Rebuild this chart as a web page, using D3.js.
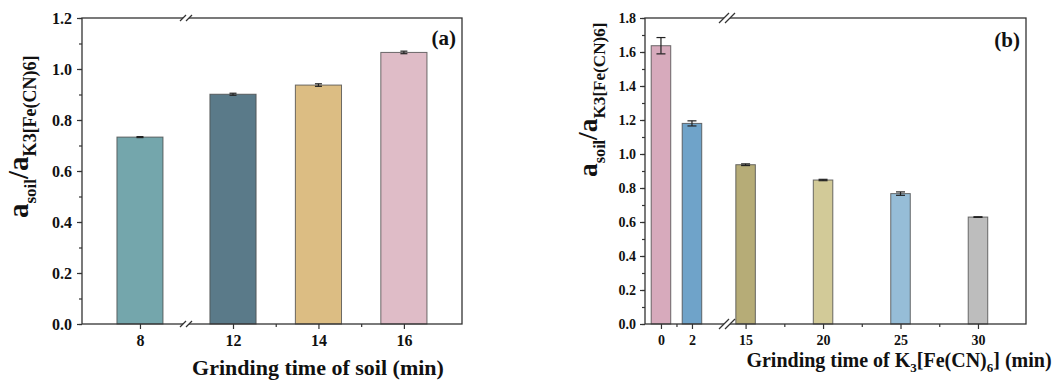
<!DOCTYPE html>
<html><head><meta charset="utf-8">
<script src="https://cdn.jsdelivr.net/npm/d3@7"></script>
<style>
body{margin:0;background:#fff;}
svg text{font-family:"Liberation Serif","Times New Roman",serif !important;font-weight:bold;fill:#111;}
</style></head>
<body><svg id="c" width="1058" height="382"></svg>
<script>
// ---- Panel (a) data ----
const timesA = [8, 12, 14, 16];
const labelsA = ["8", "12", "14", "16"];
const valuesA = [0.733, 0.901, 0.937, 1.065];
const errorsA = [0.002, 0.004, 0.005, 0.005];
const colorsA = ["#74a6ac", "#5a7a89", "#dcbd83", "#dfbcc7"];
const yTicksA = [0, 0.2, 0.4, 0.6, 0.8, 1.0, 1.2];
const xMinorA = [13, 15];

// ---- Panel (b) data ----
const timesB = [0, 2, 15, 20, 25, 30];
const labelsB = ["0", "2", "15", "20", "25", "30"];
const valuesB = [1.637, 1.180, 0.937, 0.847, 0.767, 0.629];
const errorsB = [0.048, 0.015, 0.005, 0.004, 0.010, 0.002];
const colorsB = ["#d7aabc", "#6fa3c9", "#b6ac77", "#d2ca98", "#96bdd7", "#bdbdbd"];
const yTicksB = [0, 0.2, 0.4, 0.6, 0.8, 1.0, 1.2, 1.4, 1.6, 1.8];
const xMinorB = [1, 17.5, 22.5, 27.5];

const svg = d3.select("#c");
const SERIF = "Liberation Serif";

function panel(cfg) {
  const g = svg.append("g");
  const x = d3.scaleLinear().domain(cfg.xDomain).range([cfg.left, cfg.brk, cfg.brk, cfg.right]);
  const y = d3.scaleLinear().domain([0, cfg.yMax]).range([cfg.bottom, cfg.top]);
  const hw = cfg.barHalf;

  // bars
  g.selectAll("rect.bar").data(cfg.times).join("rect")
    .attr("x", (d) => x(d - hw))
    .attr("width", (d) => x(d + hw) - x(d - hw))
    .attr("y", (d, i) => y(cfg.values[i]))
    .attr("height", (d, i) => y(0) - y(cfg.values[i]))
    .attr("fill", (d, i) => cfg.colors[i])
    .attr("stroke", "#4a4a4a").attr("stroke-opacity", 0.8).attr("stroke-width", 1);

  // error bars
  const eb = g.selectAll("g.eb").data(cfg.times).join("g");
  eb.append("line")
    .attr("x1", (d) => x(d)).attr("x2", (d) => x(d))
    .attr("y1", (d, i) => y(cfg.values[i] + cfg.errors[i]))
    .attr("y2", (d, i) => y(cfg.values[i] - cfg.errors[i]))
    .attr("stroke", "#222").attr("stroke-width", 1.2);
  [1, -1].forEach((s) => {
    eb.append("line")
      .attr("x1", (d) => x(d) - cfg.cap).attr("x2", (d) => x(d) + cfg.cap)
      .attr("y1", (d, i) => y(cfg.values[i] + s * cfg.errors[i]))
      .attr("y2", (d, i) => y(cfg.values[i] + s * cfg.errors[i]))
      .attr("stroke", "#222").attr("stroke-width", 1.2);
  });

  // y axis
  const yMinor = d3.range(0, cfg.yMax + 1e-9, 0.1).map((v) => +v.toFixed(2));
  const yMin = g.append("g").attr("transform", `translate(${cfg.left},0)`)
    .call(d3.axisLeft(y).tickValues(yMinor).tickSize(3).tickFormat(""));
  const yAx = g.append("g").attr("transform", `translate(${cfg.left},0)`)
    .call(d3.axisLeft(y).tickValues(cfg.yTicks).tickSize(5).tickPadding(cfg.yPad).tickFormat(d3.format(".1f")));
  [yMin, yAx].forEach((a) => {
    a.attr("font-family", SERIF);
    a.select(".domain").remove();
    a.selectAll("line").attr("stroke", "#333").attr("stroke-width", 1.2);
  });
  yAx.selectAll("text").style("font-size", cfg.tickFont + "px").attr("fill", "#111");

  // x axis
  const xMin = g.append("g").attr("transform", `translate(0,${cfg.bottom})`)
    .call(d3.axisBottom(x).tickValues(cfg.xMinor).tickSize(3).tickFormat(""));
  const xAx = g.append("g").attr("transform", `translate(0,${cfg.bottom})`)
    .call(d3.axisBottom(x).tickValues(cfg.times).tickSize(5).tickPadding(cfg.xPad)
      .tickFormat((d, i) => cfg.labels[i]));
  [xMin, xAx].forEach((a) => {
    a.attr("font-family", SERIF);
    a.select(".domain").remove();
    a.selectAll("line").attr("stroke", "#333").attr("stroke-width", 1.2);
  });
  xAx.selectAll("text").style("font-size", cfg.tickFont + "px").attr("fill", "#111");

  // frame
  g.append("rect").attr("x", cfg.left).attr("y", cfg.top)
    .attr("width", cfg.right - cfg.left).attr("height", cfg.bottom - cfg.top)
    .attr("fill", "none").attr("stroke", "#333").attr("stroke-width", 1.3);

  // break marks
  [cfg.top, cfg.bottom].forEach((yy) => {
    g.append("rect").attr("x", cfg.brk - cfg.gap / 2).attr("y", yy - 2)
      .attr("width", cfg.gap).attr("height", 4).attr("fill", "#fff");
    [-cfg.gap / 2, cfg.gap / 2].forEach((o) => {
      g.append("line")
        .attr("x1", cfg.brk + o - cfg.slash).attr("y1", yy + cfg.slash)
        .attr("x2", cfg.brk + o + cfg.slash).attr("y2", yy - cfg.slash)
        .attr("stroke", "#333").attr("stroke-width", 1.2);
    });
  });

  // panel label
  g.append("text").attr("x", cfg.right - 6).attr("y", cfg.top + cfg.tagDy)
    .attr("text-anchor", "end").style("font-size", "21px").text(cfg.tag);

  // y title
  const s = cfg.ys;
  const yt = g.append("text")
    .attr("transform", `translate(${cfg.yTitleX},${cfg.yTitleY}) rotate(-90)`)
    .attr("text-anchor", "start");
  yt.append("tspan").style("font-size", 29 * s + "px").text("a");
  yt.append("tspan").style("font-size", 17 * s + "px").attr("dy", 8 * s).text("soil");
  yt.append("tspan").style("font-size", 29 * s + "px").attr("dy", -8 * s).text("/a");
  yt.append("tspan").style("font-size", 18 * s + "px").attr("dy", 8 * s).text("K3[Fe(CN)6]");

  // x title
  const xt = g.append("text").attr("x", cfg.xTitleX).attr("y", cfg.xTitleY)
    .attr("text-anchor", "middle").style("font-size", cfg.xTitleFont + "px");
  cfg.xTitle.forEach((p) => {
    const t = xt.append("tspan").text(p.t);
    if (p.sub) t.style("font-size", cfg.xTitleFont * 0.65 + "px").attr("dy", 5);
    if (p.back) t.attr("dy", -5);
  });
}

panel({
  times: timesA, labels: labelsA, values: valuesA, errors: errorsA, colors: colorsA,
  yTicks: yTicksA, xMinor: xMinorA, yMax: 1.2,
  xDomain: [6.64, 9.08, 10.9, 17.36], left: 82, brk: 186, right: 462, top: 18, bottom: 324,
  barHalf: 0.54, cap: 3.5, yPad: 5, xPad: 6, tickFont: 16, gap: 6, slash: 3,
  tag: "(a)", tagDy: 27,
  ys: 1, yTitleX: 28, yTitleY: 218,
  xTitle: [{ t: "Grinding time of soil (min)" }], xTitleX: 318, xTitleY: 375, xTitleFont: 22
});

panel({
  times: timesB, labels: labelsB, values: valuesB, errors: errorsB, colors: colorsB,
  yTicks: yTicksB, xMinor: xMinorB, yMax: 1.8,
  xDomain: [-1.03, 4.26, 13.8, 33.1], left: 645, brk: 727, right: 1026, top: 18, bottom: 324,
  barHalf: 0.63, cap: 4.5, yPad: 4, xPad: 6, tickFont: 14, gap: 6, slash: 5,
  tag: "(b)", tagDy: 29,
  ys: 0.95, yTitleX: 597, yTitleY: 177,
  xTitle: [{ t: "Grinding time of K" }, { t: "3", sub: true }, { t: "[Fe(CN)", back: true },
    { t: "6", sub: true }, { t: "] (min)", back: true }],
  xTitleX: 899, xTitleY: 367, xTitleFont: 20
});
</script></body></html>
